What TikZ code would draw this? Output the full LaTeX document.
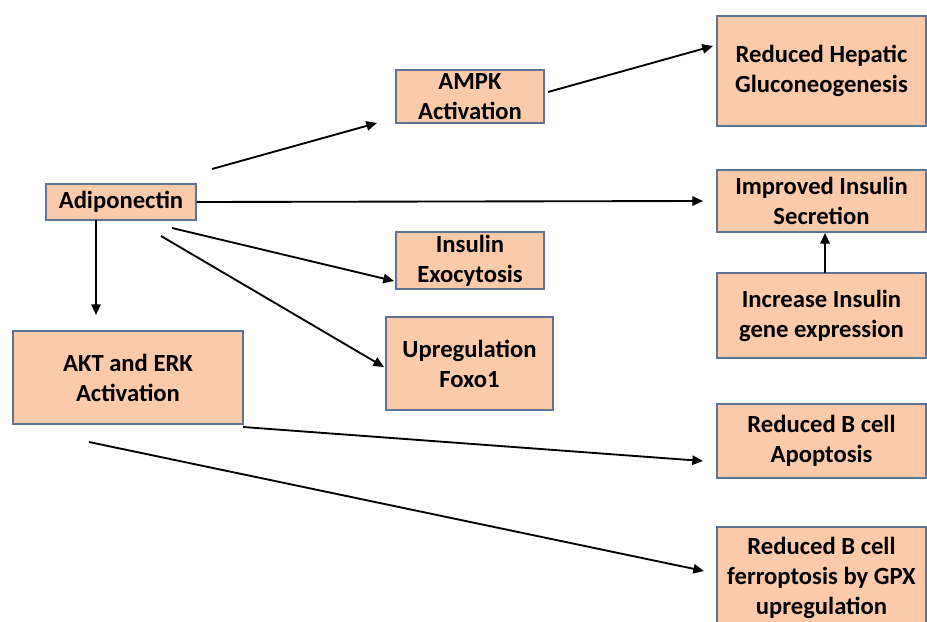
\documentclass[tikz,border=0pt]{standalone}
\usepackage{fontspec}
\setmainfont{Carlito}
\usetikzlibrary{arrows.meta}
\definecolor{boxfill}{HTML}{FBCAAA}
\definecolor{boxline}{HTML}{5F7494}
\tikzset{
  box/.style={draw=boxline, line width=0.8pt, fill=boxfill, inner sep=0pt, align=center,
    font=\fontsize{18.5}{22.5}\selectfont\bfseries},
  arr/.style={line width=1.4pt, -{Triangle[length=8pt,width=7pt]}}
}
\begin{document}
\begin{tikzpicture}[x=0.75pt,y=-0.75pt]
\useasboundingbox (0,0) rectangle (927,621);
\clip (0,0) rectangle (927,621);
\node[box, minimum width=150*0.75pt, minimum height=36*0.75pt] (adipo) at (121,202) {Adiponectin};
\node[box, minimum width=148*0.75pt, minimum height=53*0.75pt] (ampk) at (470,96.5) {AMPK\\Activation};
\node[box, minimum width=209*0.75pt, minimum height=110*0.75pt] (hepatic) at (821.5,71) {Reduced Hepatic\\Gluconeogenesis};
\node[box, minimum width=209*0.75pt, minimum height=62*0.75pt] (improved) at (821.5,201) {Improved Insulin\\Secretion};
\node[box, minimum width=209*0.75pt, minimum height=85*0.75pt] (increase) at (821.5,315.5) {Increase Insulin\\gene expression};
\node[box, minimum width=148*0.75pt, minimum height=57*0.75pt] (exo) at (470,260.5) {Insulin\\Exocytosis};
\node[box, minimum width=167*0.75pt, minimum height=93*0.75pt] (foxo) at (469.5,363.5) {Upregulation\\Foxo1};
\node[box, minimum width=230*0.75pt, minimum height=93*0.75pt] (akt) at (128,377.5) {AKT and ERK\\Activation};
\node[box, minimum width=209*0.75pt, minimum height=74*0.75pt] (apopt) at (821.5,441) {Reduced B cell\\Apoptosis};
\node[box, minimum width=209*0.75pt, minimum height=102*0.75pt] (ferro) at (821.5,578) {Reduced B cell\\ferroptosis by GPX\\upregulation};

\coordinate (s1) at (212,169); \coordinate (e1) at (377,123);
\coordinate (s2) at (548,92);  \coordinate (e2) at (713,46);
\coordinate (e3) at (703,201);
\coordinate (s4) at (96,220);  \coordinate (e4) at (96,315);
\coordinate (s5) at (172,228); \coordinate (e5) at (394,281);
\coordinate (s6) at (161,236); \coordinate (e6) at (384,367);
\coordinate (s7) at (825,273); \coordinate (e7) at (825,233);
\coordinate (s8) at (243,427); \coordinate (e8) at (703,461);
\coordinate (s9) at (89,442);  \coordinate (e9) at (704,571);

\draw[arr] (s1) -- (e1);
\draw[arr] (s2) -- (e2);
\draw[arr] (adipo.east) -- (e3);
\draw[arr] (s4) -- (e4);
\draw[arr] (s5) -- (e5);
\draw[arr] (s6) -- (e6);
\draw[arr] (s7) -- (e7);
\draw[arr] (s8) -- (e8);
\draw[arr] (s9) -- (e9);
\end{tikzpicture}
\end{document}
